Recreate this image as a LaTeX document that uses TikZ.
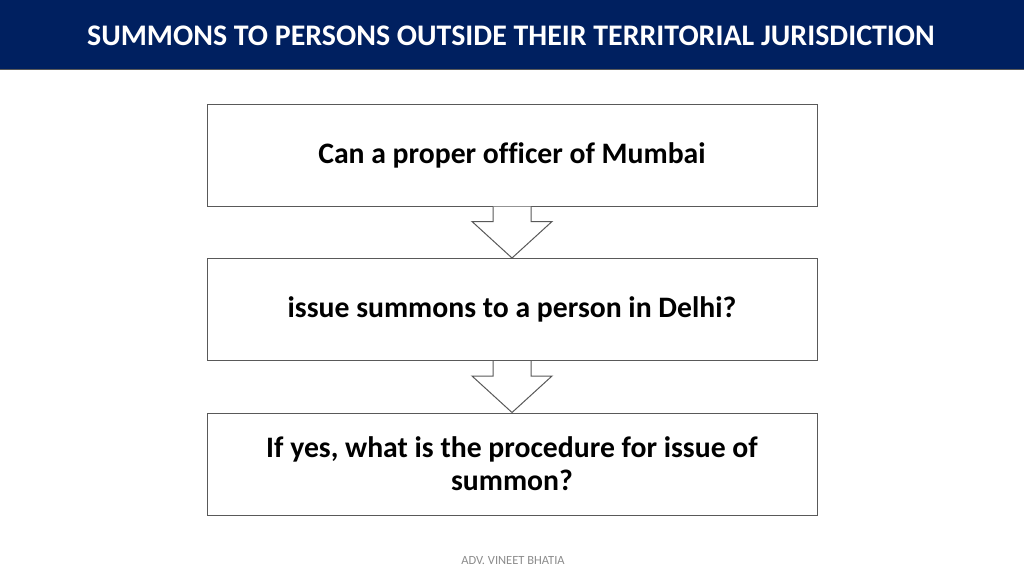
\documentclass[tikz,border=0pt]{standalone}
\usepackage{fontspec}
\setmainfont[Ligatures=NoCommon]{Carlito}
\definecolor{navy}{HTML}{002060}
\definecolor{boxline}{HTML}{595959}
\definecolor{footgray}{HTML}{8C8C8C}
\begin{document}
\begin{tikzpicture}[x=1pt,y=-1pt,
  qbox/.style={draw=boxline,line width=1pt,fill=white,minimum width=610pt,minimum height=102pt,inner sep=0pt,align=center,font=\fontsize{29.7}{33}\selectfont\bfseries,text=black},
  blockarrow/.style={draw=boxline,line width=1pt,fill=white}]
\useasboundingbox (0,0) rectangle (1024,576);
\fill[white] (0,0) rectangle (1024,576);
\fill[navy] (0,0) rectangle (1024,69);
\draw[boxline,line width=1pt] (0,69) -- (1024,69);
\node[font=\fontsize{29.9}{33}\selectfont\bfseries,text=white] (title) at (511,36) {SUMMONS TO PERSONS OUTSIDE THEIR TERRITORIAL JURISDICTION};
\node[qbox] (b1) at (512,155) {Can a proper officer of Mumbai};
\node[qbox] (b2) at (512,309.5) {issue summons to a person in Delhi?};
\node[qbox] (b3) at (512,464) {If yes, what is the procedure for issue of\\summon?};
\draw[blockarrow] ([xshift=-19pt]b1.south) -- ++(0,15) -- ++(-21,0) -- (b2.north) -- ([xshift=40pt,yshift=-15pt]b1.south) -- ++(-21,0) -- ([xshift=19pt]b1.south);
\draw[blockarrow] ([xshift=-19pt]b2.south) -- ++(0,15) -- ++(-21,0) -- (b3.north) -- ([xshift=40pt,yshift=-15pt]b2.south) -- ++(-21,0) -- ([xshift=19pt]b2.south);
\node[font=\fontsize{12.5}{14}\selectfont,text=footgray] (foot) at (513,561) {ADV. VINEET BHATIA};
\end{tikzpicture}
\end{document}
